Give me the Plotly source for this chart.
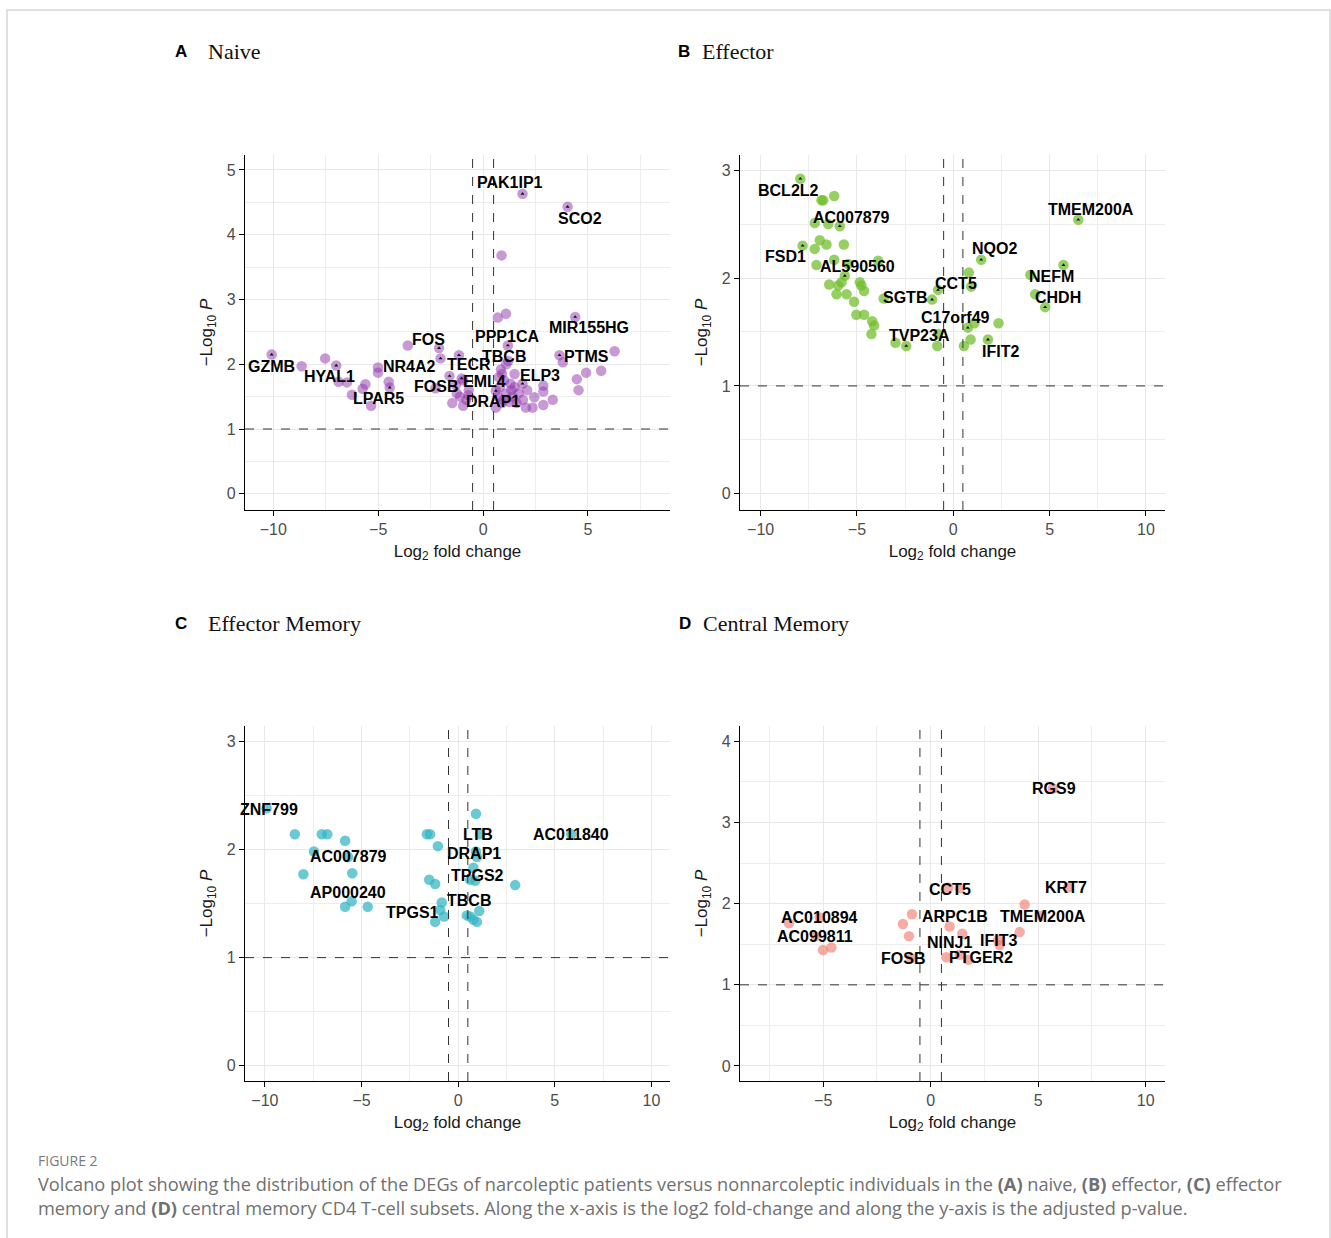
import plotly.graph_objects as go

W, H = 1331, 1238

# ---------------- data ----------------
naive_x = [1.88, 4.03, 0.88, 1.09, 0.70, 4.39, -10.08, -8.65, -7.53, -7.0, -6.89, -6.49, -5.61, -5.74,
           -6.25, -5.34, -4.45, -4.5, -5.01, -5.01, -3.59, -2.1, -2.03, -1.15, -1.6, -2.27, -1.02, -1.47,
           -0.95, -0.95, -0.68, -1.25, -1.1, -0.8, -1.3, -0.7, 1.18, 1.2, 1.88, 0.61, 0.61, 2.04, 2.36,
           2.44, 2.87, 2.87, 2.87, 3.32, 3.64, 3.8, 6.27, 5.63, 4.91, 4.47, 4.55, 0.85, 0.9, 0.75, 1.0,
           1.3, 1.5, 0.8, 1.1, 1.4, 1.7, 0.95, 1.25, 1.6, 1.9, 0.7, 1.5, 1.1, 0.9, 2.1, 1.35]
naive_y = [4.63, 4.43, 3.68, 2.78, 2.72, 2.73, 2.15, 1.97, 2.09, 1.98, 1.73, 1.72, 1.69, 1.62,
           1.53, 1.36, 1.64, 1.73, 1.95, 1.87, 2.29, 2.25, 2.09, 2.14, 1.82, 1.63, 1.78, 1.40,
           1.36, 1.75, 1.60, 1.55, 1.50, 1.45, 1.68, 1.52, 2.29, 2.05, 1.70, 1.59, 1.33, 1.33, 1.33,
           1.49, 1.67, 1.58, 1.37, 1.45, 2.14, 2.03, 2.20, 1.90, 1.87, 1.77, 1.60, 1.92, 1.85, 1.80, 1.75,
           1.70, 1.65, 1.65, 1.55, 1.50, 1.55, 1.45, 1.42, 1.40, 1.45, 1.50, 1.85, 2.00, 1.40, 1.60, 1.60]
naive_genes = ["PAK1IP1", "SCO2", "", "", "", "MIR155HG", "GZMB", "", "", "HYAL1", "", "", "", "",
               "", "", "LPAR5", "", "", "", "", "FOS", "NR4A2", "TECR", "FOSB", "", "EML4", "",
               "", "", "", "", "", "", "", "", "PPP1CA", "TBCB", "ELP3", "DRAP1", "", "", "",
               "", "", "", "", "", "PTMS", "", "", "", "", "", "", "", "", "", "",
               "", "", "", "", "", "", "", "", "", "", "", "", "", "", "", ""]

eff_x = [-7.94, -6.84, -6.75, -6.18, -7.19, -6.49, -5.89, -7.82, -7.19, -6.93, -6.58, -5.68, -7.1,
         -6.18, -5.46, -3.9, -5.63, -6.44, -5.97, -5.8, -6.06, -5.54, -4.85, -4.77, -4.63, -5.15,
         -5.03, -4.63, -4.21, -4.11, -4.25, -3.0, -2.44, -0.83, -0.79, -1.1, -3.61, -0.79, 0.81, 0.93,
         1.45, 6.49, 5.72, 4.0, 4.25, 4.77, 0.76, 1.1, 2.35, 0.9, 0.55, 1.8]
eff_y = [2.92, 2.72, 2.72, 2.76, 2.51, 2.50, 2.48, 2.30, 2.27, 2.35, 2.31, 2.31, 2.12,
         2.17, 2.13, 2.16, 2.02, 1.94, 1.93, 1.96, 1.85, 1.85, 1.96, 1.93, 1.88, 1.78,
         1.66, 1.66, 1.60, 1.56, 1.48, 1.40, 1.37, 1.37, 1.48, 1.80, 1.81, 1.89, 2.05, 1.92,
         2.17, 2.54, 2.12, 2.03, 1.85, 1.73, 1.54, 1.58, 1.58, 1.43, 1.37, 1.43]
eff_genes = ["BCL2L2", "", "", "", "", "", "AC007879", "FSD1", "", "", "", "", "",
             "", "", "", "AL590560", "", "", "", "", "", "", "", "", "",
             "", "", "", "", "", "", "TVP23A", "", "", "SGTB", "", "CCT5", "", "",
             "NQO2", "TMEM200A", "NEFM", "", "", "CHDH", "C17orf49", "", "", "", "", "IFIT2"]

em_x = [-9.91, -8.45, -7.06, -6.77, -5.85, -7.46, -5.7, -8.01, -5.48, -5.85, -5.51, -4.68, -1.62,
        -1.45, -1.05, -1.5, -1.19, -0.85, -0.93, -0.73, -1.19, 0.92, 1.14, 0.97, 0.92, 0.79, 0.62,
        0.88, 2.95, 5.85, 0.45, 0.79, 0.97, 1.09, 0.62]
em_y = [2.38, 2.14, 2.14, 2.14, 2.08, 1.98, 1.93, 1.77, 1.78, 1.47, 1.52, 1.47, 2.14,
        2.14, 2.03, 1.72, 1.68, 1.51, 1.44, 1.38, 1.33, 2.33, 2.14, 1.93, 1.98, 1.83, 1.72,
        1.71, 1.67, 2.14, 1.39, 1.35, 1.33, 1.43, 1.38]
em_genes = ["ZNF799", "", "", "", "", "", "AC007879", "", "", "", "AP000240", "", "",
            "", "", "", "", "TBCB", "TPGS1", "", "", "", "LTB", "DRAP1", "", "TPGS2", "",
            "", "", "AC011840", "", "", "", "", ""]

cm_x = [5.69, 6.39, 0.81, 1.35, 4.37, 5.15, 4.14, 0.88, -0.87, -1.29, -1.01, 1.47, 3.21, 3.13,
        0.73, 1.35, 1.74, -6.59, -5.16, -5.35, -5.01, -4.62, -0.9]
cm_y = [3.42, 2.20, 2.20, 2.19, 1.99, 1.85, 1.65, 1.72, 1.87, 1.75, 1.60, 1.63, 1.49, 1.55,
        1.34, 1.37, 1.31, 1.76, 1.83, 1.60, 1.43, 1.46, 1.33]
cm_genes = ["RGS9", "KRT7", "CCT5", "", "", "TMEM200A", "", "ARPC1B", "", "", "", "NINJ1", "IFIT3", "",
            "", "", "PTGER2", "", "AC010894", "AC099811", "", "", "FOSB"]

# ---------------- label offsets (pixels, layout only) ----------------
naive_off = {"PAK1IP1": (-13, 11), "SCO2": (12, -12), "MIR155HG": (14, -11), "PTMS": (27, -1),
             "GZMB": (0, -12), "HYAL1": (-7, -11), "LPAR5": (-11, -11), "NR4A2": (-31, -8),
             "FOS": (-11, 9), "TECR": (10, -9), "FOSB": (-14, -11), "EML4": (23, -3),
             "DRAP1": (-3, -11), "PPP1CA": (-1, 9), "TBCB": (-4, 5), "ELP3": (17, 8)}
eff_off = {"BCL2L2": (-12, -12), "AC007879": (12, 9), "FSD1": (-17, -11), "AL590560": (13, 9),
           "TMEM200A": (13, 10), "NQO2": (13, 11), "NEFM": (-12, -11), "CHDH": (13, 10),
           "CCT5": (18, 6), "SGTB": (-27, 2), "C17orf49": (-12, 10), "TVP23A": (13, 10),
           "IFIT2": (13, -12)}
em_off = {"ZNF799": (2, -1), "AC007879": (0, 0), "AP000240": (-4, 9), "TPGS1": (-28, -3),
          "LTB": (-2, 0), "DRAP1": (-3, 3), "TPGS2": (4, -8), "TBCB": (27, 2), "AC011840": (0, 0)}
cm_off = {"RGS9": (1, 0), "KRT7": (-2, 0), "CCT5": (2, -2), "TMEM200A": (2, -1), "ARPC1B": (5, 10),
          "NINJ1": (-13, -9), "IFIT3": (-1, 5), "PTGER2": (13, 2), "FOSB": (-8, 0),
          "AC010894": (0, 0), "AC099811": (-1, 0)}

panels = [
    dict(letter="A", name="Naive", x=naive_x, y=naive_y, genes=naive_genes, off=naive_off,
         color="rgba(143,53,173,0.5)", xr=[-11.35, 8.91], yr=[-0.25, 5.23], box=(245, 155, 670, 510),
         head=(173, 206, 52), arrows=True),
    dict(letter="B", name="Effector", x=eff_x, y=eff_y, genes=eff_genes, off=eff_off,
         color="rgba(110,190,40,0.72)", xr=[-11.07, 10.99], yr=[-0.15, 3.14], box=(740, 155, 1165, 510),
         head=(676, 700, 52), arrows=True),
    dict(letter="C", name="Effector Memory", x=em_x, y=em_y, genes=em_genes, off=em_off,
         color="rgba(50,180,195,0.72)", xr=[-11.03, 10.96], yr=[-0.14, 3.14], box=(245, 726, 670, 1081),
         head=(173, 206, 623), arrows=False),
    dict(letter="D", name="Central Memory", x=cm_x, y=cm_y, genes=cm_genes, off=cm_off,
         color="rgba(242,120,110,0.62)", xr=[-8.87, 10.9], yr=[-0.185, 4.19], box=(740, 726, 1165, 1081),
         head=(677, 701, 623), arrows=False),
]

fig = go.Figure()
LAB_FONT = dict(family="Liberation Sans, Arial, sans-serif", size=16, color="#000000")
TICK_FONT = dict(family="Liberation Sans, Arial, sans-serif", size=16, color="#4d4d4d")
TITLE_FONT = dict(family="Liberation Sans, Arial, sans-serif", size=17, color="#1a1a1a")

for i, p in enumerate(panels):
    k = "" if i == 0 else str(i + 1)
    xa, ya = "x" + k, "y" + k
    x0, y0, x1, y1 = p["box"]
    fig.add_trace(go.Scatter(x=p["x"], y=p["y"], mode="markers", xaxis=xa, yaxis=ya,
                             marker=dict(size=10.5, color=p["color"], line=dict(width=0)),
                             hoverinfo="skip", showlegend=False))
    lx = [xv for xv, g in zip(p["x"], p["genes"]) if g]
    ly = [yv for yv, g in zip(p["y"], p["genes"]) if g]
    if p["arrows"]:
        fig.add_trace(go.Scatter(x=lx, y=ly, mode="markers", xaxis=xa, yaxis=ya,
                                 marker=dict(size=3.5, color="#111", symbol="triangle-up"),
                                 hoverinfo="skip", showlegend=False))
    for xv, yv, g in zip(p["x"], p["y"], p["genes"]):
        if not g:
            continue
        dx, dy = p["off"].get(g, (0, 0))
        fig.add_annotation(x=xv, y=yv, xref=xa, yref=ya, text=f"<b>{g}</b>", showarrow=False,
                           xshift=dx, yshift=dy, font=LAB_FONT)
    # threshold lines
    for xv in (-0.5, 0.5):
        fig.add_shape(type="line", xref=xa, yref=ya + " domain", x0=xv, x1=xv, y0=0, y1=1,
                      line=dict(color="#333", width=1, dash="dash"))
    fig.add_shape(type="line", xref=xa + " domain", yref=ya, x0=0, x1=1, y0=1, y1=1,
                  line=dict(color="#333", width=1, dash="dash"))

    axis_common = dict(showline=True, linecolor="#000", linewidth=1.3, mirror=False, zeroline=False,
                       ticks="outside", ticklen=5, tickwidth=1.1, tickcolor="#000", tickfont=TICK_FONT,
                       showgrid=True, gridcolor="#e8e8e8", gridwidth=1.3, automargin=False)
    fig.layout["xaxis" + k] = dict(axis_common, domain=[x0 / W, x1 / W], range=p["xr"], anchor=ya,
                                   dtick=5, tick0=0,
                                   minor=dict(dtick=2.5, showgrid=True, gridcolor="#ededed", gridwidth=1),
                                   title=dict(text="Log<sub>2</sub> fold change", font=TITLE_FONT, standoff=7))
    fig.layout["yaxis" + k] = dict(axis_common, domain=[1 - y1 / H, 1 - y0 / H], range=p["yr"], anchor=xa,
                                   dtick=1, tick0=0,
                                   minor=dict(dtick=0.5, showgrid=True, gridcolor="#ededed", gridwidth=1),
                                   title=dict(text="−Log<sub>10</sub> <i>P</i>", font=TITLE_FONT, standoff=9))
    lxp, nxp, hy = p["head"]
    fig.add_annotation(xref="paper", yref="paper", x=lxp / W, y=1 - hy / H, xanchor="left", yanchor="middle",
                       text=f"<b>{p['letter']}</b>", showarrow=False,
                       font=dict(family="Liberation Sans, Arial, sans-serif", size=17, color="#000"))
    fig.add_annotation(xref="paper", yref="paper", x=nxp / W, y=1 - hy / H, xanchor="left", yanchor="middle",
                       text=p["name"], showarrow=False,
                       font=dict(family="Liberation Serif, Times New Roman, serif", size=22, color="#111"))

# caption
CAP = dict(family="Open Sans, Lato, sans-serif", size=18.2, color="#707070")
fig.add_annotation(xref="paper", yref="paper", x=36 / W, y=1 - 1160 / H, xanchor="left", yanchor="middle",
                   text="FIGURE 2", showarrow=False,
                   font=dict(family="Open Sans, Lato, sans-serif", size=14, color="#7a7a7a"))
fig.add_annotation(xref="paper", yref="paper", x=36 / W, y=1 - 1184 / H, xanchor="left", yanchor="middle",
                   text="Volcano plot showing the distribution of the DEGs of narcoleptic patients versus "
                        "nonnarcoleptic individuals in the <b>(A)</b> naive, <b>(B)</b> effector, <b>(C)</b> effector",
                   showarrow=False, font=CAP)
fig.add_annotation(xref="paper", yref="paper", x=36 / W, y=1 - 1208 / H, xanchor="left", yanchor="middle",
                   text="memory and <b>(D)</b> central memory CD4 T-cell subsets. Along the x-axis is the log2 "
                        "fold-change and along the y-axis is the adjusted p-value.",
                   showarrow=False, font=CAP)

# frame
fig.add_shape(type="rect", xref="paper", yref="paper", x0=7 / W, x1=1330 / W, y0=-0.05, y1=1 - 10 / H,
              line=dict(color="#d6d6d6", width=1.5), layer="below")

fig.update_layout(width=W, height=H, margin=dict(l=0, r=0, t=0, b=0),
                  paper_bgcolor="white", plot_bgcolor="white", showlegend=False)

fig.write_html("out.html", config={"displayModeBar": False},
               post_script="document.body.style.margin='0';document.body.style.overflow='hidden';")
